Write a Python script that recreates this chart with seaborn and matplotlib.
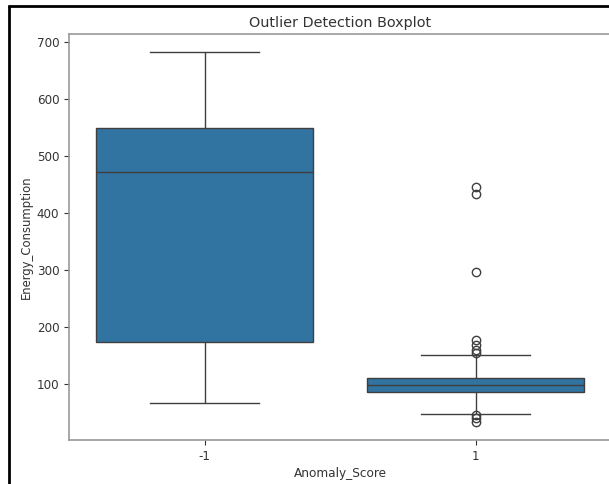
import matplotlib
matplotlib.use("Agg")
import matplotlib.pyplot as plt
from matplotlib.lines import Line2D
import seaborn as sns
import pandas as pd

# Data
anomaly_labels = [-1, 1]
energy_anomaly_neg = [68, 175, 472, 549, 681]
energy_anomaly_pos = [35, 42, 46, 48.5,
                      62, 72, 80, 84, 86,
                      88, 90, 92, 94, 95, 97, 98, 99,
                      101, 103, 105, 107, 108, 110, 111, 112,
                      151, 155, 160, 169, 177, 297, 434, 446]

df = pd.DataFrame({
    "Anomaly_Score": [anomaly_labels[0]] * len(energy_anomaly_neg)
                     + [anomaly_labels[1]] * len(energy_anomaly_pos),
    "Energy_Consumption": energy_anomaly_neg + energy_anomaly_pos,
})

plt.rcParams["font.family"] = ["DejaVu Sans"]
plt.rcParams["font.size"] = 8.6

W, H = 609, 484
fig = plt.figure(figsize=(W / 100, H / 100), dpi=100)
ax = fig.add_axes([69 / W, 1 - 440 / H, (611 - 69) / W, (440 - 34) / H])

sns.boxplot(data=df, x="Anomaly_Score", y="Energy_Consumption", ax=ax)

ax.set_title("Outlier Detection Boxplot", fontsize=10.4, color="#333333", pad=5)
ax.set_xlabel("Anomaly_Score", fontsize=8.7, color="#333333", labelpad=3)
ax.set_ylabel("Energy_Consumption", fontsize=8.4, color="#333333", labelpad=3)
ax.tick_params(colors="#333333", labelsize=8.6)
for s in ax.spines.values():
    s.set_color("#999999")
    s.set_linewidth(1.2)
ax.set_yticks([100, 200, 300, 400, 500, 600, 700])

# screenshot frame (left and top black edges)
fig.add_artist(Line2D([8.5 / W, 8.5 / W], [1 - 5 / H, 0], transform=fig.transFigure,
                      color="black", lw=2.0, solid_capstyle="butt"))
fig.add_artist(Line2D([8 / W, 1], [1 - 5.5 / H, 1 - 5.5 / H], transform=fig.transFigure,
                      color="black", lw=2.0, solid_capstyle="butt"))

fig.savefig("out.png", dpi=100)
